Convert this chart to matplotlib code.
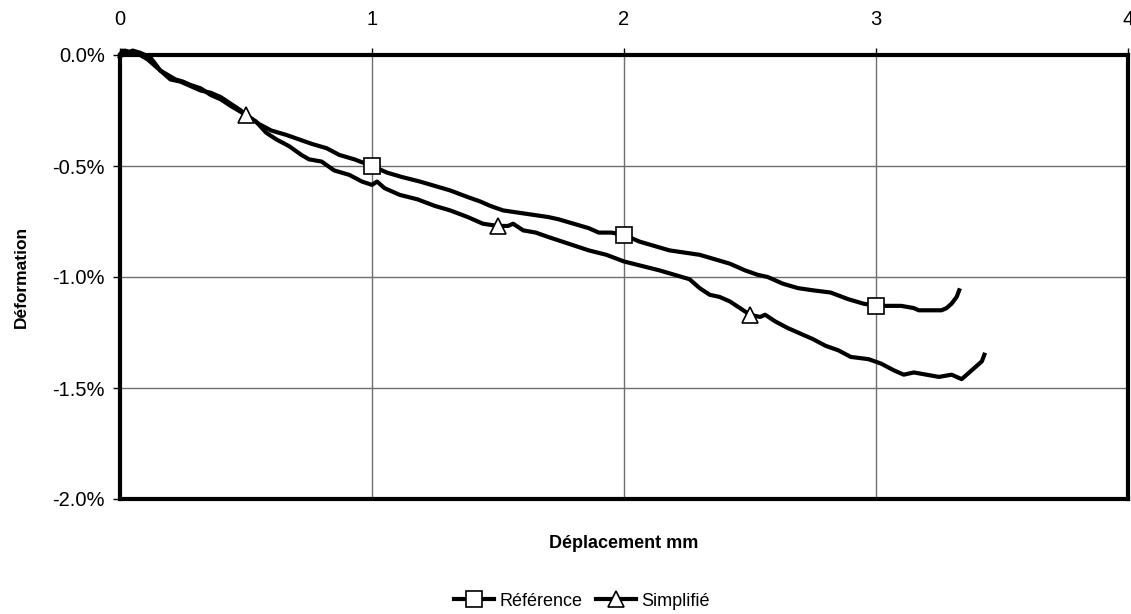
import numpy as np
import matplotlib.pyplot as plt
from matplotlib.ticker import FuncFormatter

plt.rcParams['font.family'] = ['Liberation Sans', 'DejaVu Sans']

# Courbe "Référence" : déplacement (mm) / déformation (%)
ref_x = [0.00, 0.01, 0.03, 0.05, 0.08, 0.10, 0.12, 0.14, 0.16, 0.19, 0.22, 0.25,
         0.28, 0.32, 0.36, 0.40, 0.44, 0.47, 0.50, 0.55, 0.60, 0.66, 0.71, 0.76,
         0.82, 0.87, 0.93, 1.00, 1.06, 1.12, 1.19, 1.25, 1.31, 1.38, 1.43, 1.47,
         1.52, 1.58, 1.64, 1.70, 1.74, 1.80, 1.86, 1.90, 1.95, 2.00, 2.06, 2.12,
         2.18, 2.24, 2.30, 2.36, 2.42, 2.48, 2.53, 2.57, 2.63, 2.69, 2.75, 2.82,
         2.89, 2.95, 3.00, 3.05, 3.10, 3.15, 3.17, 3.22, 3.26, 3.28, 3.30, 3.32, 3.33]
ref_y = [0.00, 0.02, 0.01, 0.02, 0.01, 0.00, -0.01, -0.04, -0.07, -0.09, -0.11, -0.12,
         -0.135, -0.15, -0.18, -0.20, -0.23, -0.25, -0.27, -0.31, -0.34, -0.36, -0.38, -0.40,
         -0.42, -0.45, -0.47, -0.50, -0.53, -0.55, -0.57, -0.59, -0.61, -0.64, -0.66, -0.68,
         -0.70, -0.71, -0.72, -0.73, -0.74, -0.76, -0.78, -0.80, -0.80, -0.81, -0.84, -0.86,
         -0.88, -0.89, -0.90, -0.92, -0.94, -0.97, -0.99, -1.00, -1.03, -1.05, -1.06, -1.07,
         -1.10, -1.12, -1.13, -1.13, -1.13, -1.14, -1.15, -1.15, -1.15, -1.14, -1.12, -1.09, -1.06]

# Courbe "Simplifié"
sim_x = [0.00, 0.02, 0.05, 0.08, 0.11, 0.14, 0.17, 0.20, 0.24, 0.28, 0.32, 0.36,
         0.40, 0.44, 0.48, 0.50, 0.54, 0.58, 0.62, 0.67, 0.72, 0.75, 0.80, 0.85,
         0.91, 0.96, 1.00, 1.02, 1.05, 1.11, 1.18, 1.25, 1.31, 1.38, 1.44, 1.50,
         1.54, 1.56, 1.60, 1.65, 1.70, 1.78, 1.86, 1.93, 2.00, 2.07, 2.14, 2.20,
         2.26, 2.30, 2.34, 2.38, 2.42, 2.46, 2.50, 2.54, 2.56, 2.60, 2.65, 2.69,
         2.75, 2.80, 2.85, 2.90, 2.97, 3.02, 3.07, 3.11, 3.15, 3.20, 3.25, 3.30,
         3.33, 3.34, 3.37, 3.40, 3.42, 3.43]
sim_y = [-0.01, 0.02, 0.01, 0.00, -0.02, -0.05, -0.08, -0.11, -0.12, -0.14, -0.16, -0.17,
         -0.19, -0.22, -0.25, -0.27, -0.30, -0.35, -0.38, -0.41, -0.45, -0.47, -0.48, -0.52,
         -0.54, -0.57, -0.585, -0.57, -0.60, -0.63, -0.65, -0.68, -0.70, -0.73, -0.76, -0.77,
         -0.77, -0.76, -0.79, -0.80, -0.82, -0.85, -0.88, -0.90, -0.93, -0.95, -0.97, -0.99,
         -1.01, -1.05, -1.08, -1.09, -1.11, -1.14, -1.17, -1.18, -1.17, -1.20, -1.23, -1.25,
         -1.28, -1.31, -1.33, -1.36, -1.37, -1.39, -1.42, -1.44, -1.43, -1.44, -1.45, -1.44,
         -1.455, -1.46, -1.43, -1.40, -1.38, -1.35]

ref_marks = [1.00, 2.00, 3.00]
sim_marks = [0.50, 1.50, 2.50]

fig = plt.figure(figsize=(11.31, 6.14), dpi=100)
ax = fig.add_axes([120/1131, 1 - 499/614, 1008/1131, 444/614])

ax.plot(ref_x, ref_y, color='black', lw=3, marker='s', ms=11, mfc='white', mec='black',
        mew=1.2, markevery=[ref_x.index(v) for v in ref_marks], label='Référence',
        solid_joinstyle='round', clip_on=False, zorder=3)
ax.plot(sim_x, sim_y, color='black', lw=3, marker='^', ms=11, mfc='white', mec='black',
        mew=1.2, markevery=[sim_x.index(v) for v in sim_marks], label='Simplifié',
        solid_joinstyle='round', clip_on=False, zorder=3)

ax.set_xlim(0, 4)
ax.set_ylim(-2.0, 0.0)
ax.set_xticks([0, 1, 2, 3, 4])
ax.set_yticks([0.0, -0.5, -1.0, -1.5, -2.0])
ax.yaxis.set_major_formatter(FuncFormatter(lambda v, p: f'{v:.1f}%'))
ax.xaxis.tick_top()
ax.xaxis.set_label_position('bottom')
ax.tick_params(direction='out', length=5, width=1, labelsize=14.5, pad=6)
ax.tick_params(axis='x', pad=14)
ax.grid(True, color='#6e6e6e', lw=1)
for s in ax.spines.values():
    s.set_linewidth(3)
    s.set_color('black')

ax.set_xlabel('Déplacement mm', fontsize=13, fontweight='bold', labelpad=26)
ax.set_ylabel('Déformation', fontsize=12.5, fontweight='bold', labelpad=17)

fig.legend(loc='center', bbox_to_anchor=(582/1131, 1 - 601/614), ncol=2, frameon=False,
           fontsize=13, handlelength=2.2, columnspacing=0.8, handletextpad=0.3)

fig.savefig('out.png', dpi=100)
